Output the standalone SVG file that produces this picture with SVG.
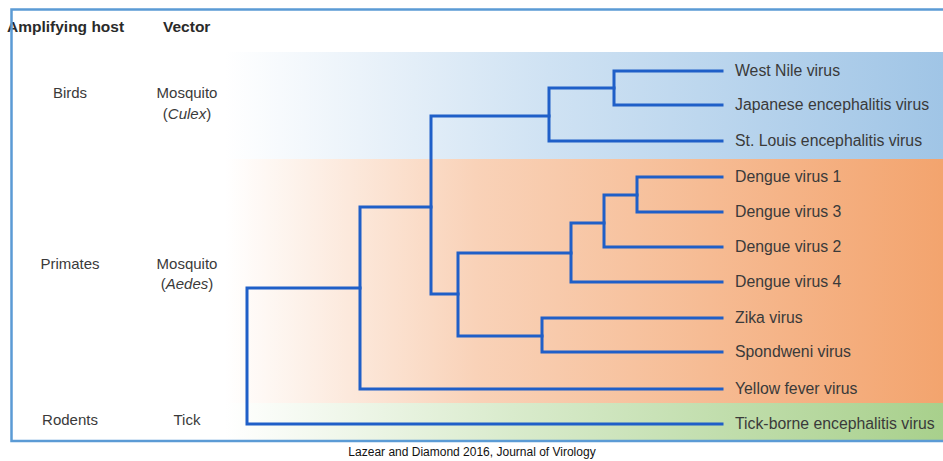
<svg xmlns="http://www.w3.org/2000/svg" width="943" height="461" viewBox="0 0 943 461">
<style>
.lbl{font-family:"Liberation Sans",Arial,sans-serif;font-size:15px;fill:#3a3a3a}
.leaf{font-size:15.8px}
.hdr{font-family:"Liberation Sans",Arial,sans-serif;font-size:15.5px;font-weight:bold;fill:#2a2a2a}
.mid{text-anchor:middle}
.br{fill:none;stroke:#1f5fc8;stroke-width:3;stroke-linejoin:miter;stroke-linecap:square}
.cap{font-family:"Liberation Sans",Arial,sans-serif;font-size:12px;fill:#111}
</style>
<defs>
<linearGradient id="gb" x1="0" x2="1" y1="0" y2="0"><stop offset="0" stop-color="#ffffff"/><stop offset="0.45" stop-color="#cfe2f3"/><stop offset="1" stop-color="#a0c5e6"/></linearGradient>
<linearGradient id="go" x1="0" x2="1" y1="0" y2="0"><stop offset="0" stop-color="#ffffff"/><stop offset="0.35" stop-color="#f9d2b8"/><stop offset="1" stop-color="#f3a46e"/></linearGradient>
<linearGradient id="gg" x1="0" x2="1" y1="0" y2="0"><stop offset="0" stop-color="#ffffff"/><stop offset="0.4" stop-color="#d9ebcc"/><stop offset="1" stop-color="#a8d08c"/></linearGradient>
</defs>
<rect x="0" y="0" width="943" height="461" fill="#ffffff"/>
<g id="bands">
<rect x="225" y="52" width="718" height="107" fill="url(#gb)"/>
<rect x="225" y="159" width="718" height="244" fill="url(#go)"/>
<rect x="225" y="403" width="718" height="37" fill="url(#gg)"/>
</g>
<g id="headers">
<text class="hdr" x="7" y="32">Amplifying host</text>
<text class="hdr" x="163" y="32">Vector</text>
</g>
<g id="host-vector">
<text class="lbl mid" x="70" y="98">Birds</text>
<text class="lbl mid" x="187" y="98">Mosquito</text>
<text class="lbl mid" x="187" y="119">(<tspan font-style="italic">Culex</tspan>)</text>
<text class="lbl mid" x="70" y="269">Primates</text>
<text class="lbl mid" x="187" y="269">Mosquito</text>
<text class="lbl mid" x="187" y="289">(<tspan font-style="italic">Aedes</tspan>)</text>
<text class="lbl mid" x="70" y="425">Rodents</text>
<text class="lbl mid" x="187" y="425">Tick</text>
</g>
<g id="connectors">
<path class="br" d="M722 71H614V105H722"/>
<path class="br" d="M614 88H549V141H722"/>
<path class="br" d="M549 116H431V294H458"/>
<path class="br" d="M722 177H637V212H722"/>
<path class="br" d="M637 195H604V247H722"/>
<path class="br" d="M604 223H571V282H722"/>
<path class="br" d="M571 253H458V336H542"/>
<path class="br" d="M722 318H542V352H722"/>
<path class="br" d="M431 207H360V389H722"/>
<path class="br" d="M360 288H247V424H722"/>
</g>
<g id="leaves">
<g id="n-wnv"><text class="lbl leaf" x="735" y="76">West Nile virus</text></g>
<g id="n-jev"><text class="lbl leaf" x="735" y="110">Japanese encephalitis virus</text></g>
<g id="n-slev"><text class="lbl leaf" x="735" y="146">St. Louis encephalitis virus</text></g>
<g id="n-denv1"><text class="lbl leaf" x="735" y="182">Dengue virus 1</text></g>
<g id="n-denv3"><text class="lbl leaf" x="735" y="217">Dengue virus 3</text></g>
<g id="n-denv2"><text class="lbl leaf" x="735" y="252">Dengue virus 2</text></g>
<g id="n-denv4"><text class="lbl leaf" x="735" y="287">Dengue virus 4</text></g>
<g id="n-zikv"><text class="lbl leaf" x="735" y="323">Zika virus</text></g>
<g id="n-spov"><text class="lbl leaf" x="735" y="357">Spondweni virus</text></g>
<g id="n-yfv"><text class="lbl leaf" x="735" y="394">Yellow fever virus</text></g>
<g id="n-tbev"><text class="lbl leaf" x="735" y="429">Tick-borne encephalitis virus</text></g>
</g>
<g id="frame" fill="none" stroke="#5b9bd5" stroke-width="2.5">
<path d="M943 9.5H11.5V441H943"/>
</g>
<text class="cap mid" x="472" y="456">Lazear and Diamond 2016, Journal of Virology</text>
</svg>
